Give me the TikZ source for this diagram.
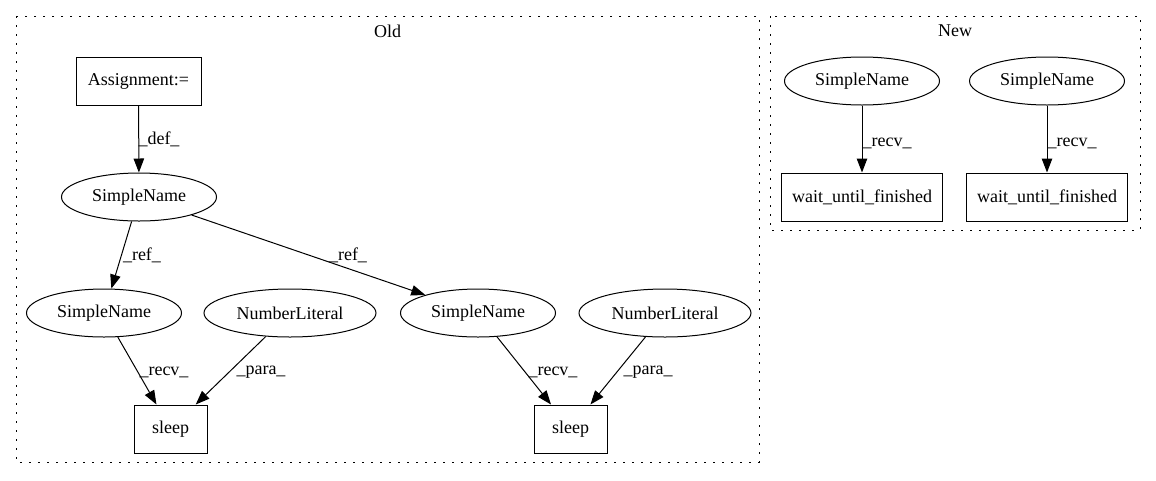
\documentclass[tikz,border=0pt]{standalone}
\usepackage{fontspec}
\setmainfont{Liberation Serif}
\usetikzlibrary{shapes.geometric,arrows.meta}
\begin{document}
\begin{tikzpicture}[x=1pt,y=-1pt,
  every node/.style={font=\fontsize{18}{21}\selectfont},
  ell/.style={draw,ellipse,line width=1pt,inner sep=0pt,minimum height=48pt},
  rbox/.style={draw,rectangle,line width=1pt,inner sep=0pt,minimum height=48pt},
  edge/.style={line width=1pt,-{Triangle[length=14pt,width=10.5pt]}},
  lbl/.style={inner sep=0pt},
  cluster/.style={line width=1pt,dash pattern=on 1.6pt off 7.4pt}
]
\useasboundingbox (0,0) rectangle (1156,480);
% clusters
\draw[cluster] (16,16) rectangle (759,462);
\node[lbl] (toldt) at (387.5,31) {Old};
\draw[cluster] (770,16) rectangle (1140,230);
\node[lbl] (tnew) at (955,31) {New};
% Old nodes
\node[rbox,minimum width=125pt] (asg) at (138.5,81) {Assignment:=};
\node[ell,minimum width=155pt] (sn0) at (139,197) {SimpleName};
\node[ell,minimum width=155pt] (sn1) at (104,313) {SimpleName};
\node[ell,minimum width=172pt] (nl1) at (290,313) {NumberLiteral};
\node[ell,minimum width=155pt] (sn2) at (478,313) {SimpleName};
\node[ell,minimum width=172pt] (nl2) at (665,313) {NumberLiteral};
\node[rbox,minimum width=73pt] (sl1) at (170.5,429) {sleep};
\node[rbox,minimum width=73pt] (sl2) at (570.5,429) {sleep};
% New nodes
\node[ell,minimum width=155pt] (sn3) at (862,81) {SimpleName};
\node[ell,minimum width=155pt] (sn4) at (1047,81) {SimpleName};
\node[rbox,minimum width=161pt] (wf1) at (862,197) {wait\_until\_finished};
\node[rbox,minimum width=161pt] (wf2) at (1047,197) {wait\_until\_finished};
% edges
\draw[edge] (asg) -- (sn0) node[lbl] (l1) at (159,139) {\_def\_};
\draw[edge] (sn0) -- (sn1) node[lbl] (l2) at (142,255) {\_ref\_};
\draw[edge] (sn0) -- (sn2) node[lbl] (l3) at (348,255) {\_ref\_};
\draw[edge] (sn1) -- (sl1) node[lbl] (l4) at (164,372) {\_recv\_};
\draw[edge] (nl1) -- (sl1) node[lbl] (l5) at (261,372) {\_para\_};
\draw[edge] (sn2) -- (sl2) node[lbl] (l6) at (553,372) {\_recv\_};
\draw[edge] (nl2) -- (sl2) node[lbl] (l7) at (648,372) {\_para\_};
\draw[edge] (sn3) -- (wf1) node[lbl] (l8) at (887,143) {\_recv\_};
\draw[edge] (sn4) -- (wf2) node[lbl] (l9) at (1072,143) {\_recv\_};
\end{tikzpicture}
\end{document}
